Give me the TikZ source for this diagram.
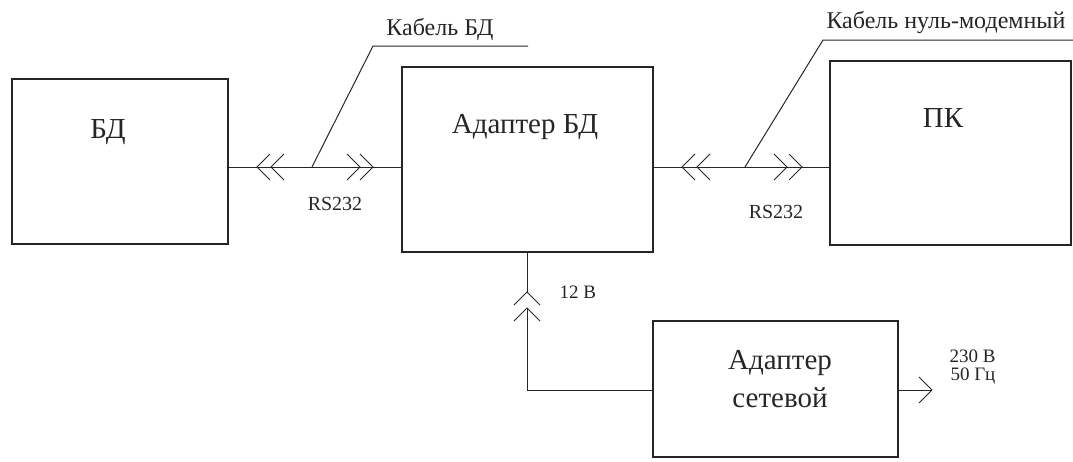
\documentclass[tikz,border=0pt]{standalone}
\usepackage{fontspec}
\setmainfont{Liberation Serif}
\begin{document}
\begin{tikzpicture}[x=1pt,y=-1pt,line width=1pt,
  box/.style={draw=black!85, rectangle, inner sep=0pt, line width=1.1pt},
  big/.style={font=\fontsize{29}{31}\selectfont, inner sep=0pt, text=black!85},
  mid/.style={font=\fontsize{24}{26}\selectfont, inner sep=0pt, text=black!85},
  rs/.style={font=\fontsize{20}{22}\selectfont, inner sep=0pt, text=black!85},
  small/.style={font=\fontsize{19}{21}\selectfont, inner sep=0pt, text=black!85},
  wire/.style={draw=black!85, line width=1pt},
  chev/.pic={\draw[black!85, line width=1pt] (-13,-13) -- (0,0) -- (-13,13);}]
\useasboundingbox (0,0) rectangle (1073,461);
\clip (0,0) rectangle (1073,461);
% boxes
\node[box, minimum width=216pt, minimum height=165pt] (bd) at (120,161.5) {};
\node[box, minimum width=251pt, minimum height=185pt] (ad) at (527.5,159.5) {};
\node[box, minimum width=241pt, minimum height=184pt] (pc) at (950.5,153) {};
\node[box, minimum width=245pt, minimum height=136pt] (ps) at (775.5,389) {};
% box texts
\node[big] (tbd) at (108,132) {БД};
\node[big] (tad) at (525,127) {Адаптер БД};
\node[big] (tpc) at (943,118) {ПК};
\node[big] (tps1) at (780,363) {Адаптер};
\node[big] (tps2) at (780,398) {сетевой};
% coordinates
\coordinate (j1) at (312,167);
\coordinate (k1) at (373,46);
\coordinate (e1) at (528,46);
\coordinate (j2) at (745,167);
\coordinate (k2) at (823,40);
\coordinate (e2) at (1073,40);
\coordinate (pv) at (527,390);
\coordinate (va) at (527,292);
\coordinate (vb) at (527,308);
\coordinate (out) at (932,390);
% left link
\draw[wire] (bd.east |- j1) -- (ad.west |- j1);
\pic[rotate=180] at (257,167) {chev};
\pic[rotate=180] at (271,167) {chev};
\pic at (360,167) {chev};
\pic at (373,167) {chev};
\draw[wire] (j1) -- (k1) -- (e1);
% right link
\draw[wire] (ad.east |- j2) -- (pc.west |- j2);
\pic[rotate=180] at (682,167) {chev};
\pic[rotate=180] at (697,167) {chev};
\pic at (787,167) {chev};
\pic at (802,167) {chev};
\draw[wire] (j2) -- (k2) -- (e2);
% power link
\draw[wire] (ps.west |- pv) -- (pv) -- (vb);
\draw[wire] (va) -- (ad.south -| va);
\pic[rotate=90] at (va) {chev};
\pic[rotate=90] at (vb) {chev};
\draw[wire] (ps.east |- out) -- (out);
\pic at (out) {chev};
% labels
\node[mid] (lc1) at (440,29) {Кабель БД};
\node[mid, anchor=west] (lc2) at (826,22) {Кабель нуль-модемный};
\node[rs] (rs1) at (335,204) {RS232};
\node[rs] (rs2) at (776,212) {RS232};
\node[small, anchor=west] (v12) at (559,292) {12 В};
\node[small, anchor=west] (v230) at (949,356) {230 В};
\node[small, anchor=west] (f50) at (950,376) {50 Гц};
\end{tikzpicture}
\end{document}
